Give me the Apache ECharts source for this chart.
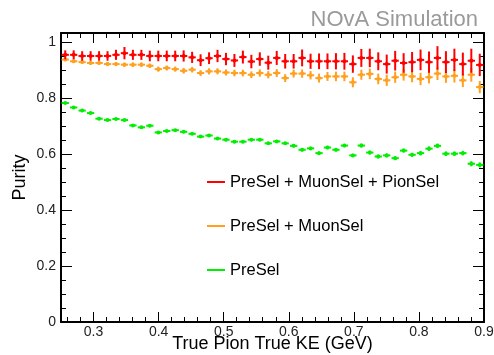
<!DOCTYPE html>
<html>
<head>
<meta charset="utf-8">
<script src="https://cdn.jsdelivr.net/npm/echarts@6/dist/echarts.min.js"></script>
<style>
  html, body { margin: 0; padding: 0; background: #fff; }
  #chart { width: 494px; height: 355px; }
</style>
</head>
<body>
<div id="chart"></div>
<script>
// bin centres of the true pion KE histogram (GeV), 50 bins of 0.013
const keCenters = [
  0.2565, 0.2695, 0.2825, 0.2955, 0.3085, 0.3215, 0.3345, 0.3475, 0.3605, 0.3735,
  0.3865, 0.3995, 0.4125, 0.4255, 0.4385, 0.4515, 0.4645, 0.4775, 0.4905, 0.5035,
  0.5165, 0.5295, 0.5425, 0.5555, 0.5685, 0.5815, 0.5945, 0.6075, 0.6205, 0.6335,
  0.6465, 0.6595, 0.6725, 0.6855, 0.6985, 0.7115, 0.7245, 0.7375, 0.7505, 0.7635,
  0.7765, 0.7895, 0.8025, 0.8155, 0.8285, 0.8415, 0.8545, 0.8675, 0.8805, 0.8935
];

const pionSelPurity = [
  0.954, 0.954, 0.950, 0.950, 0.950, 0.950, 0.954, 0.960, 0.954, 0.954,
  0.950, 0.950, 0.950, 0.950, 0.950, 0.945, 0.935, 0.942, 0.950, 0.939,
  0.934, 0.946, 0.930, 0.939, 0.926, 0.943, 0.931, 0.931, 0.943, 0.931,
  0.931, 0.931, 0.931, 0.931, 0.921, 0.943, 0.943, 0.931, 0.921, 0.933,
  0.925, 0.928, 0.936, 0.928, 0.943, 0.928, 0.936, 0.921, 0.933, 0.918
];
const pionSelErr = [
  0.016, 0.016, 0.017, 0.017, 0.017, 0.017, 0.018, 0.022, 0.018, 0.018,
  0.019, 0.019, 0.019, 0.019, 0.020, 0.020, 0.021, 0.021, 0.022, 0.022,
  0.023, 0.023, 0.024, 0.024, 0.025, 0.025, 0.026, 0.026, 0.030, 0.027,
  0.028, 0.028, 0.029, 0.030, 0.031, 0.032, 0.033, 0.032, 0.034, 0.035,
  0.035, 0.036, 0.037, 0.038, 0.042, 0.039, 0.040, 0.041, 0.043, 0.040
];

const muonSelPurity = [
  0.937, 0.931, 0.928, 0.925, 0.925, 0.921, 0.921, 0.919, 0.919, 0.919,
  0.915, 0.903, 0.907, 0.903, 0.897, 0.901, 0.889, 0.895, 0.895, 0.891,
  0.889, 0.889, 0.883, 0.889, 0.883, 0.889, 0.871, 0.887, 0.887, 0.881,
  0.871, 0.877, 0.877, 0.877, 0.856, 0.883, 0.886, 0.868, 0.863, 0.874,
  0.883, 0.877, 0.868, 0.874, 0.887, 0.877, 0.879, 0.863, 0.883, 0.839
];
const muonSelErr = [
  0.006, 0.006, 0.006, 0.007, 0.007, 0.007, 0.007, 0.008, 0.008, 0.008,
  0.008, 0.009, 0.009, 0.009, 0.010, 0.010, 0.010, 0.011, 0.011, 0.011,
  0.012, 0.012, 0.012, 0.013, 0.013, 0.014, 0.014, 0.014, 0.015, 0.015,
  0.016, 0.016, 0.017, 0.017, 0.018, 0.018, 0.019, 0.019, 0.020, 0.020,
  0.021, 0.021, 0.022, 0.022, 0.023, 0.023, 0.024, 0.024, 0.025, 0.022
];

const preSelPurity = [
  0.782, 0.766, 0.755, 0.746, 0.726, 0.721, 0.725, 0.721, 0.702, 0.695,
  0.701, 0.677, 0.682, 0.685, 0.679, 0.672, 0.662, 0.666, 0.655, 0.651,
  0.644, 0.644, 0.651, 0.651, 0.638, 0.645, 0.638, 0.629, 0.615, 0.620,
  0.603, 0.623, 0.615, 0.630, 0.595, 0.630, 0.605, 0.591, 0.595, 0.585,
  0.612, 0.597, 0.603, 0.619, 0.629, 0.601, 0.601, 0.603, 0.565, 0.561
];
const preSelErr = [
  0.003, 0.003, 0.003, 0.003, 0.003, 0.003, 0.003, 0.003, 0.004, 0.004,
  0.004, 0.004, 0.004, 0.004, 0.004, 0.004, 0.004, 0.004, 0.005, 0.005,
  0.005, 0.005, 0.005, 0.005, 0.005, 0.005, 0.005, 0.006, 0.006, 0.006,
  0.006, 0.006, 0.006, 0.006, 0.006, 0.007, 0.007, 0.007, 0.007, 0.007,
  0.007, 0.007, 0.008, 0.008, 0.008, 0.008, 0.008, 0.008, 0.009, 0.009
];

const xTickLabels = [0.3, 0.4, 0.5, 0.6, 0.7, 0.8, 0.9];
const yTickLabels = [0, 0.2, 0.4, 0.6, 0.8, 1];

const FONT = "Liberation Sans, Arial, Helvetica, sans-serif";
const X_MIN = 0.25, X_MAX = 0.9, Y_MIN = 0, Y_MAX = 1.032;
const HALF_BIN = 0.0056;

function minorTicks(min, max, step) {
  const out = [];
  for (let v = min + step; v < max - 1e-9; v += step) out.push(+v.toFixed(4));
  return out;
}

function renderPoint(params, api) {
  const x = api.value(0);
  const y = api.value(1);
  const e = api.value(2);
  const color = api.visual("color");
  const l = api.coord([x - HALF_BIN, y]);
  const r = api.coord([x + HALF_BIN, y]);
  const t = api.coord([x, y + e]);
  const b = api.coord([x, y - e]);
  const c = api.coord([x, y]);
  const style = { stroke: color, lineWidth: 2 };
  return {
    type: "group",
    children: [
      { type: "line", shape: { x1: l[0], y1: l[1], x2: r[0], y2: r[1] }, style },
      { type: "line", shape: { x1: t[0], y1: t[1], x2: b[0], y2: b[1] }, style },
      { type: "circle", shape: { cx: c[0], cy: c[1], r: 2 }, style: { fill: color } },
    ],
  };
}

function pointSeries(name, color, values, errs) {
  return {
    name,
    type: "custom",
    renderItem: renderPoint,
    itemStyle: { color },
    encode: { x: 0, y: 1 },
    data: keCenters.map((k, i) => [k, values[i], errs[i]]),
    z: 5,
  };
}

function xAxisDef(position, ticks, len, opts) {
  return Object.assign({
    type: "value", position, min: X_MIN, max: X_MAX,
    axisLine: { show: false, onZero: false },
    axisTick: { show: true, inside: true, length: len, customValues: ticks,
      lineStyle: { color: "#000", width: 1 } },
    axisLabel: { show: false },
    splitLine: { show: false },
  }, opts || {});
}

function yAxisDef(position, ticks, len, opts) {
  return Object.assign({
    type: "value", position, min: Y_MIN, max: Y_MAX,
    axisLine: { show: false, onZero: false },
    axisTick: { show: true, inside: true, length: len, customValues: ticks,
      lineStyle: { color: "#000", width: 1 } },
    axisLabel: { show: false },
    splitLine: { show: false },
  }, opts || {});
}

const frameLine = { show: true, onZero: false, lineStyle: { color: "#000", width: 2 } };

const chart = echarts.init(document.getElementById("chart"));
chart.setOption({
  animation: false,
  textStyle: { fontFamily: FONT },
  title: {
    text: "NOvA Simulation",
    right: 11, top: 4,
    textStyle: { fontFamily: FONT, fontSize: 22, fontWeight: "normal", color: "#9a9a9a" },
  },
  grid: { left: 61, right: 10, top: 33, bottom: 33, containLabel: false, outerBoundsMode: "none" },
  legend: {
    orient: "vertical",
    left: 207, top: 172,
    padding: 0,
    icon: "rect",
    itemWidth: 18, itemHeight: 2,
    itemGap: 24,
    textStyle: { fontFamily: FONT, fontSize: 16.5, color: "#000", lineHeight: 20 },
    data: ["PreSel + MuonSel + PionSel", "PreSel + MuonSel", "PreSel"],
  },
  xAxis: [
    xAxisDef("bottom", xTickLabels, 10, {
      axisLine: frameLine,
      axisLabel: { show: true, customValues: xTickLabels, margin: 3,
        fontSize: 14, color: "#222", fontFamily: FONT },
      name: "True Pion True KE (GeV)",
      nameLocation: "middle", nameGap: 13, nameMoveOverlap: false,
      nameTextStyle: { fontSize: 18, color: "#000", fontFamily: FONT },
    }),
    xAxisDef("bottom", minorTicks(0.24, X_MAX, 0.02), 5),
    xAxisDef("top", xTickLabels, 10, { axisLine: frameLine }),
    xAxisDef("top", minorTicks(0.24, X_MAX, 0.02), 5),
  ],
  yAxis: [
    yAxisDef("left", yTickLabels, 11, {
      axisLine: frameLine,
      axisLabel: { show: true, customValues: yTickLabels, margin: 5,
        fontSize: 14, color: "#222", fontFamily: FONT },
      name: "Purity",
      nameLocation: "middle", nameGap: 32, nameMoveOverlap: false,
      nameTextStyle: { fontSize: 18, color: "#000", fontFamily: FONT },
    }),
    yAxisDef("left", minorTicks(0, Y_MAX, 0.05), 5),
    yAxisDef("right", yTickLabels, 11, { axisLine: frameLine }),
    yAxisDef("right", minorTicks(0, Y_MAX, 0.05), 5),
  ],
  series: [
    pointSeries("PreSel", "#00ee00", preSelPurity, preSelErr),
    pointSeries("PreSel + MuonSel", "#ffa020", muonSelPurity, muonSelErr),
    pointSeries("PreSel + MuonSel + PionSel", "#ff0000", pionSelPurity, pionSelErr),
  ],
});
</script>
</body>
</html>
